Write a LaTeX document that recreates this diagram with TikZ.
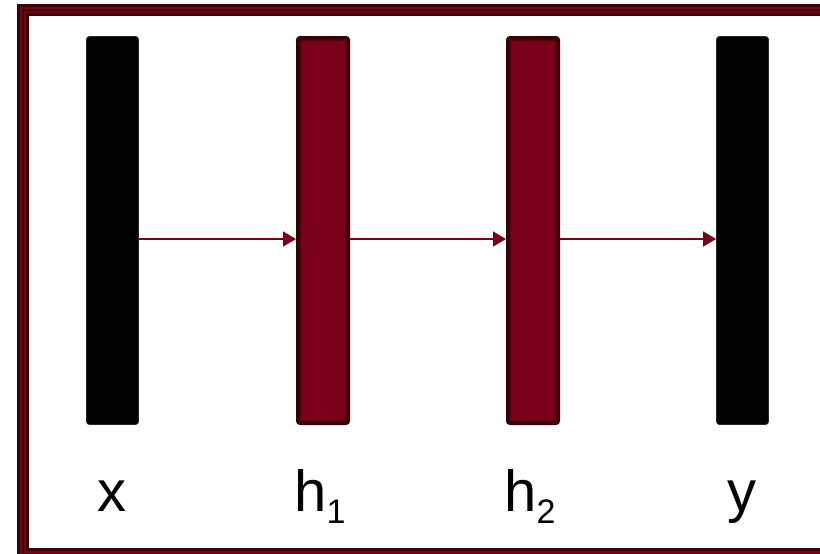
\documentclass[tikz,border=0pt]{standalone}
\usepackage{fontspec}
\setmainfont{Liberation Sans}
\usetikzlibrary{arrows.meta}
\definecolor{crim}{HTML}{7A0019}
\definecolor{darkcrim}{HTML}{3A0008}
\tikzset{
  framedark/.style={draw=darkcrim, line width=12.5pt},
  framemid/.style={draw=crim, line width=6pt},
  framein/.style={draw=darkcrim, line width=1.6pt},
  blackbar/.style={draw=black!85, fill=black, line width=0.8pt, rounded corners=3pt,
    minimum width=52pt, minimum height=388pt, inner sep=0pt},
  redbar/.style={draw=darkcrim, fill=crim, line width=4.5pt, rounded corners=2pt,
    minimum width=49.5pt, minimum height=384.5pt, inner sep=0pt},
  conn/.style={draw=crim, line width=1.3pt, -{Triangle[length=13pt,width=15pt]}},
  lbl/.style={anchor=base, inner sep=0pt, font=\fontsize{58}{58}\selectfont}
}
\newcommand{\subn}[1]{\raisebox{-12pt}{\fontsize{34}{34}\selectfont #1}}
\begin{document}
\begin{tikzpicture}[x=1pt, y=-1pt]
  \useasboundingbox (0,0) rectangle (820,554);
  \clip (0,0) rectangle (820,554);
  \fill[white] (0,0) rectangle (820,554);
  % frame
  \draw[framedark] (23,10) rectangle (826,554);
  \draw[framemid] (23,10) rectangle (826,554);
  \draw[framein] (23,10) rectangle (826,554);
  % bars
  \node[blackbar] (x) at (112.5,230.5) {};
  \node[redbar] (h1) at (323,230.5) {};
  \node[redbar] (h2) at (533,230.5) {};
  \node[blackbar] (y) at (742.5,230.5) {};
  % connectors
  \draw[conn] ([yshift=-8.5pt]x.east) -- ([yshift=-8.5pt]h1.west);
  \draw[conn] ([yshift=-8.5pt]h1.east) -- ([yshift=-8.5pt]h2.west);
  \draw[conn] ([yshift=-8.5pt]h2.east) -- ([yshift=-8.5pt]y.west);
  % labels
  \node[lbl] (lx) at (112,511) {x};
  \node[lbl] (lh1) at (320,511) {h\subn{1}};
  \node[lbl] (lh2) at (530,511) {h\subn{2}};
  \node[lbl] (ly) at (742,511) {y};
\end{tikzpicture}
\end{document}
